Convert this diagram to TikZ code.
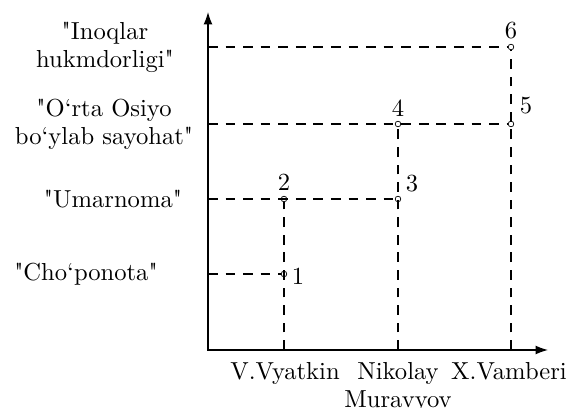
\documentclass[tikz,border=0pt]{standalone}
\usepackage{fontspec}
\setmainfont{lmroman10-regular.otf}[Ligatures=TeXOff]
\usepackage{tikz}
\usetikzlibrary{arrows.meta, positioning}

\begin{document}
\begin{tikzpicture}[x=0.02cm, y=0.02cm,
  txt/.style={font=\fontsize{14}{16}\selectfont, align=center, inner sep=0pt},
  guide/.style={dash pattern=on 5.5pt off 4.5pt, line width=0.6pt},
  dot/.style={circle, draw, inner sep=0pt, minimum size=3.2pt, line width=0.4pt}]
\useasboundingbox (0,0) rectangle (571,408);
\coordinate (O) at (208,58);
\coordinate (ytop) at (208,396);
\coordinate (xend) at (548,58);
\node[dot] (c1) at (284,134) {};
\node[dot] (c2) at (284,209) {};
\node[dot] (c3) at (398,209) {};
\node[dot] (c4) at (398,284) {};
\node[dot] (c5) at (511,284) {};
\node[dot] (c6) at (511,361) {};
\draw[guide] (O -| c1) -- (c2);
\draw[guide] (O -| c3) -- (c4);
\draw[guide] (O -| c5) -- (c6);
\draw[guide] (O |- c1) -- (c1);
\draw[guide] (O |- c2) -- (c3);
\draw[guide] (O |- c4) -- (c5);
\draw[guide] (O |- c6) -- (c6);
\draw[line width=0.7pt, {Latex[length=7pt,width=5pt]}-{Latex[length=7pt,width=5pt]}]
  (ytop) -- (O) -- (xend);
\node[txt] (n1) at (298,132) {1};
\node[txt] (n2) at (284,226) {2};
\node[txt] (n3) at (412,224) {3};
\node[txt] (n4) at (398,300) {4};
\node[txt] (n5) at (526,302) {5};
\node[txt] (n6) at (511,377) {6};
\node[txt] (t6) at (105,361) {"Inoqlar\\hukmdorligi"};
\node[txt] (t4) at (104,284) {"O‘rta Osiyo\\bo‘ylab sayohat"};
\node[txt] (t2) at (113,209) {"Umarnoma"};
\node[txt] (t1) at (86,134) {"Cho‘ponota"};
\node[txt, anchor=north] (xa) at (285,46) {V.Vyatkin};
\node[txt, anchor=north] (xb) at (398,46) {Nikolay\\Muravyov};
\node[txt, anchor=north] (xc) at (509,46) {X.Vamberi};
\end{tikzpicture}
\end{document}
